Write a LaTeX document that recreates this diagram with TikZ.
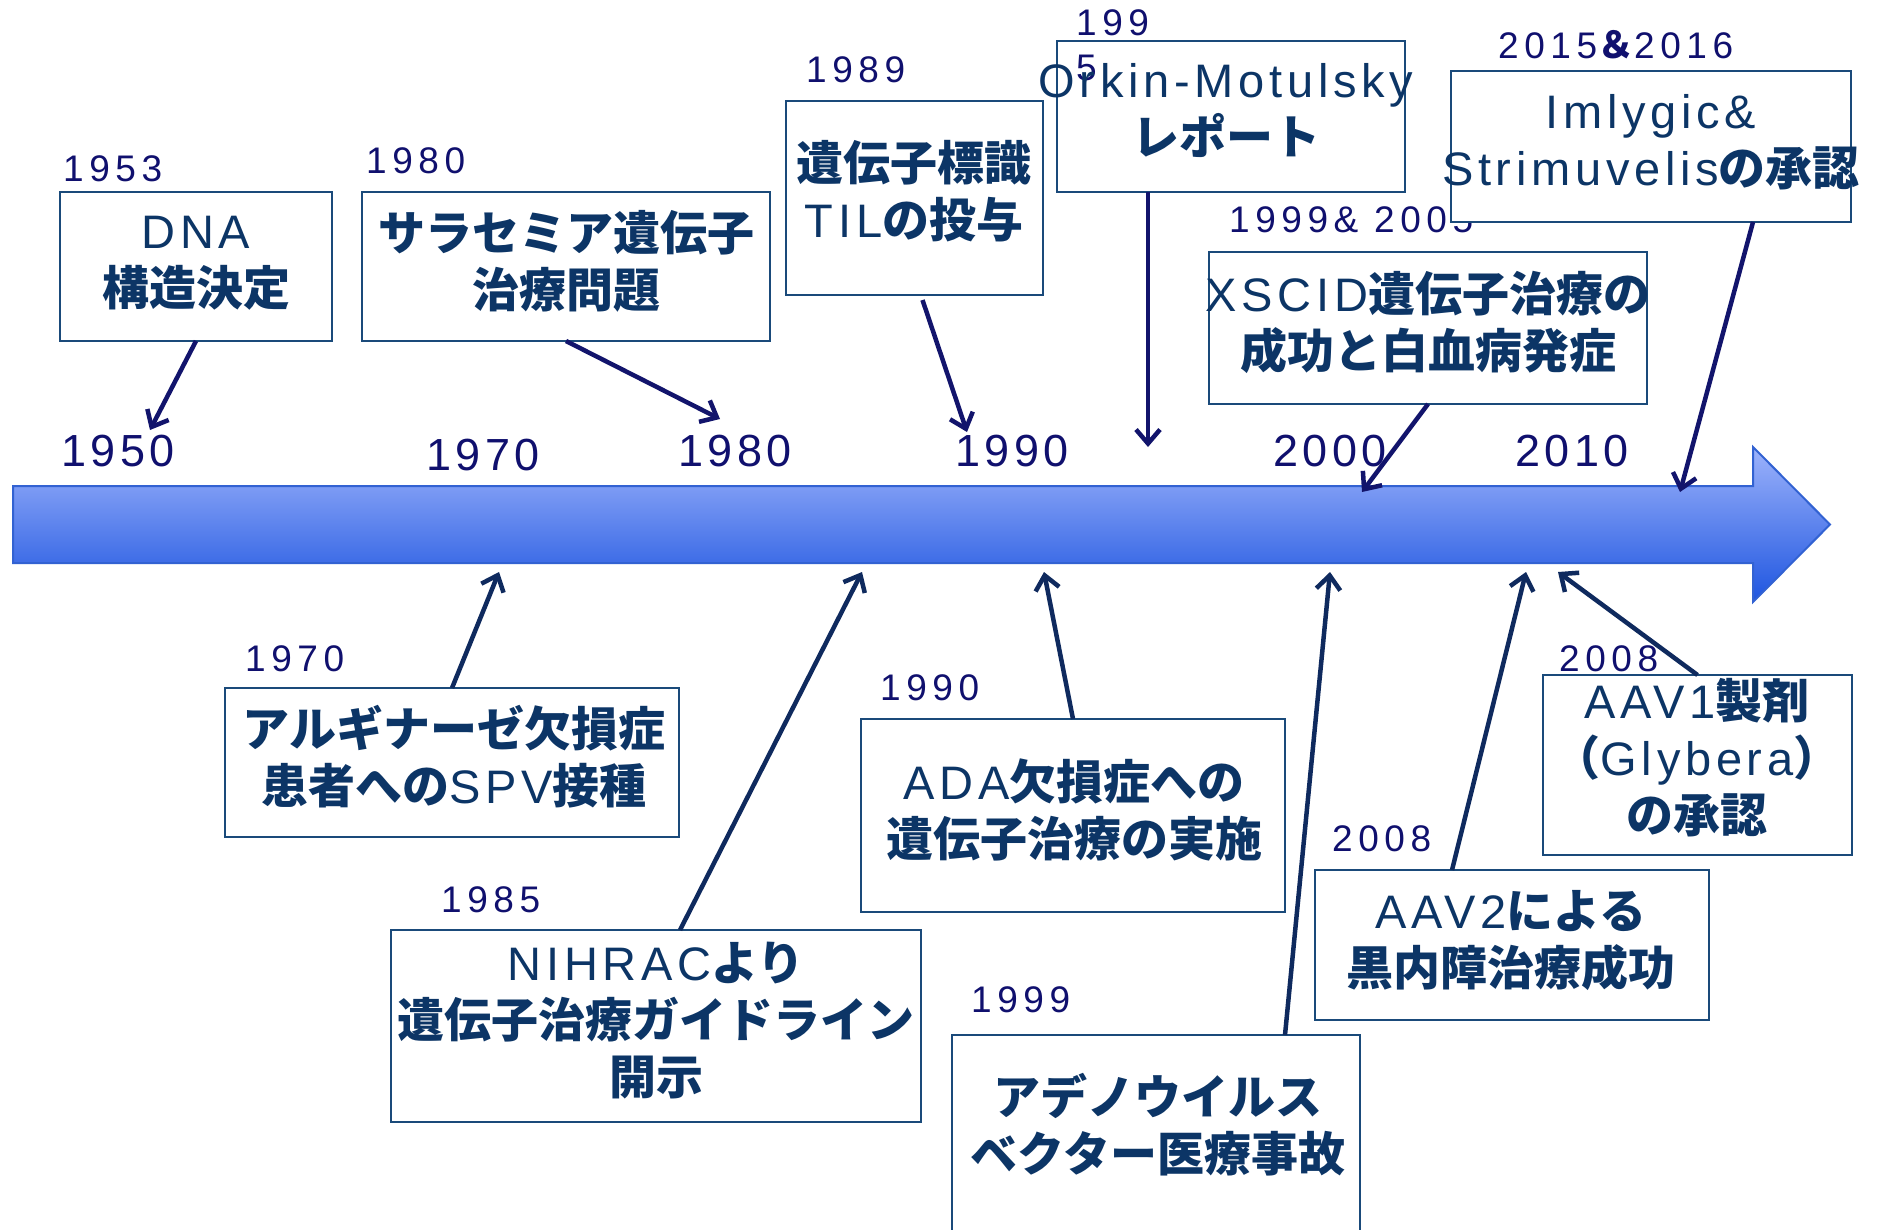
\documentclass[tikz,border=0pt]{standalone}
\usepackage{fontspec}
\setmainfont{Liberation Sans}[LetterSpace=10]
\newfontfamily\yrfont{Liberation Sans}[LetterSpace=15]
\newfontfamily\jpfont{Noto Sans CJK JP}
\newcommand\J[1]{{\jpfont\bfseries #1}}
\usetikzlibrary{arrows.meta,calc}
\definecolor{yearc}{HTML}{10106E}
\definecolor{textc}{HTML}{0C3566}
\definecolor{boxc}{HTML}{1A4A7A}
\definecolor{arrtop}{HTML}{12146C}
\definecolor{arrbot}{HTML}{0F2A5E}
\definecolor{bartop}{HTML}{9DB3FB}
\definecolor{barbot}{HTML}{1E55E0}
\definecolor{baredge}{HTML}{3262D2}
\begin{document}
\begin{tikzpicture}[x=1pt,y=-1pt,
  boxs/.style={draw=boxc, line width=2.2pt, inner sep=0pt, outer sep=0pt},
  txt/.style={text=textc, align=center, inner sep=0pt, font=\fontsize{47}{57}\selectfont},
  yr/.style={text=yearc, anchor=base west, inner sep=0pt, font=\yrfont\fontsize{37}{45}\selectfont},
  axislbl/.style={text=yearc, anchor=base west, inner sep=0pt, font=\fontsize{45}{54}\selectfont},
  conntop/.style={draw=arrtop, line width=4.5pt, -{Straight Barb[length=14pt,width=24pt]}},
  connbot/.style={draw=arrbot, line width=4.5pt, -{Straight Barb[length=14pt,width=24pt]}},
]
\clip (0,0) rectangle (1881,1229);
\fill[white] (0,0) rectangle (1881,1229);

% timeline arrow
\draw[top color=bartop, bottom color=barbot, draw=baredge, line width=2pt]
  (13,486) -- (1753,486) -- (1753,447) -- (1830,524.5) -- (1753,602) -- (1753,563) -- (13,563) -- cycle;

% axis labels
\node[axislbl] (x1950) at (61,466) {1950};
\node[axislbl] (x1970) at (426,470) {1970};
\node[axislbl] (x1980) at (678,466) {1980};
\node[axislbl] (x1990) at (955,466) {1990};
\node[axislbl] (x2000) at (1273,466) {2000};
\node[axislbl] (x2010) at (1515,466) {2010};

% year labels of events
\node[yr] (l1953) at (63,181) {1953};
\node[yr] (l1980) at (366,173) {1980};
\node[yr] (l1989) at (806,82) {1989};
\node[yr] (l1995) at (1076,35) {\begin{tabular}[t]{@{}l@{}}199\\5\end{tabular}};
\node[yr] (l2015) at (1498,58) {2015{\jpfont\bfseries ＆}2016};
\node[yr] (l1999b) at (1229,232) {1999\& 2005};
\node[yr] (l1970) at (245,671) {1970};
\node[yr] (l1985) at (441,912) {1985};
\node[yr] (l1990) at (880,700) {1990};
\node[yr] (l1999) at (971,1012) {1999};
\node[yr] (l2008a) at (1332,851) {2008};
\node[yr] (l2008b) at (1559,671) {2008};

% boxes
\node[boxs, minimum width=272pt, minimum height=149pt] (b1953) at (196,266.5) {};
\node[boxs, minimum width=408pt, minimum height=149pt] (b1980) at (566,266.5) {};
\node[boxs, minimum width=257pt, minimum height=194pt] (b1989) at (914.5,198) {};
\node[boxs, minimum width=348pt, minimum height=151pt] (b1995) at (1231,116.5) {};
\node[boxs, fill=white, minimum width=400pt, minimum height=151pt] (b2015) at (1651,146.5) {};
\node[boxs, minimum width=438pt, minimum height=152pt] (bxscid) at (1428,328) {};
\node[boxs, minimum width=454pt, minimum height=149pt] (b1970) at (452,762.5) {};
\node[boxs, minimum width=530pt, minimum height=192pt] (b1985) at (656,1026) {};
\node[boxs, minimum width=424pt, minimum height=193pt] (bada) at (1073,815.5) {};
\node[boxs, minimum width=408pt, minimum height=210pt] (b1999) at (1156,1140) {};
\node[boxs, minimum width=394pt, minimum height=150pt] (baav2) at (1512,945) {};
\node[boxs, minimum width=309pt, minimum height=180pt] (baav1) at (1697.5,765) {};

% box texts
\node[txt] (t1953) at (196,263) {DNA\\\J{構造決定}};
\node[txt] (t1980) at (566,261) {\J{サラセミア遺伝子}\\\J{治療問題}};
\node[txt] (t1989) at (914,191) {\J{遺伝子標識}\\TIL\J{の投与}};
\node[txt] (t1995) at (1226,111) {Orkin-Motulsky\\\J{レポート}};
\node[txt] (t2015) at (1651,142) {Imlygic\&\\Strimuvelis\J{の承認}};
\node[txt] (txscid) at (1428,322) {XSCID\J{遺伝子治療の}\\\J{成功と白血病発症}};
\node[txt] (t1970) at (454,757) {\J{アルギナーゼ欠損症}\\\J{患者への}SPV\J{接種}};
\node[txt] (t1985) at (656,1021) {NIHRAC\J{より}\\\J{遺伝子治療ガイドライン}\\\J{開示}};
\node[txt] (tada) at (1074,810) {ADA\J{欠損症への}\\\J{遺伝子治療の実施}};
\node[txt] (t1999) at (1158,1125) {\J{アデノウイルス}\\\J{ベクター医療事故}};
\node[txt] (taav2) at (1511,941) {AAV2\J{による}\\\J{黒内障治療成功}};
\node[txt] (taav1) at (1697,758) {AAV1\J{製剤}\\\J{（}Glybera\J{）}\\\J{の承認}};

% arrow end points on the timeline
\coordinate (e1953) at (150,430);
\coordinate (e1980) at (720,419);
\coordinate (e1989) at (967,432);
\coordinate (e1995) at (1148,447);
\coordinate (exscid) at (1362,492);
\coordinate (e2015) at (1680,492);
\coordinate (e1970) at (499,572);
\coordinate (e1985) at (862,572);
\coordinate (eada) at (1044,572);
\coordinate (e1999) at (1330,572);
\coordinate (eaav2) at (1526,572);
\coordinate (eaav1) at (1558,572);

% connectors
\draw[conntop] (b1953.south) -- (e1953);
\draw[conntop] (b1980.south) -- (e1980);
\draw[conntop] ([xshift=8pt,yshift=-5pt]b1989.south) -- (e1989);
\draw[conntop] ([xshift=-83pt]b1995.south) -- (e1995);
\draw[conntop] (bxscid.south) -- (exscid);
\draw[conntop] ([xshift=102pt]b2015.south) -- (e2015);
\draw[connbot] (b1970.north) -- (e1970);
\draw[connbot] ([xshift=24pt]b1985.north) -- (e1985);
\draw[connbot] (bada.north) -- (eada);
\draw[connbot] ([xshift=129pt]b1999.north) -- (e1999);
\draw[connbot] ([xshift=-60pt]baav2.north) -- (eaav2);
\draw[connbot] (baav1.north) -- (eaav1);
\end{tikzpicture}
\end{document}
